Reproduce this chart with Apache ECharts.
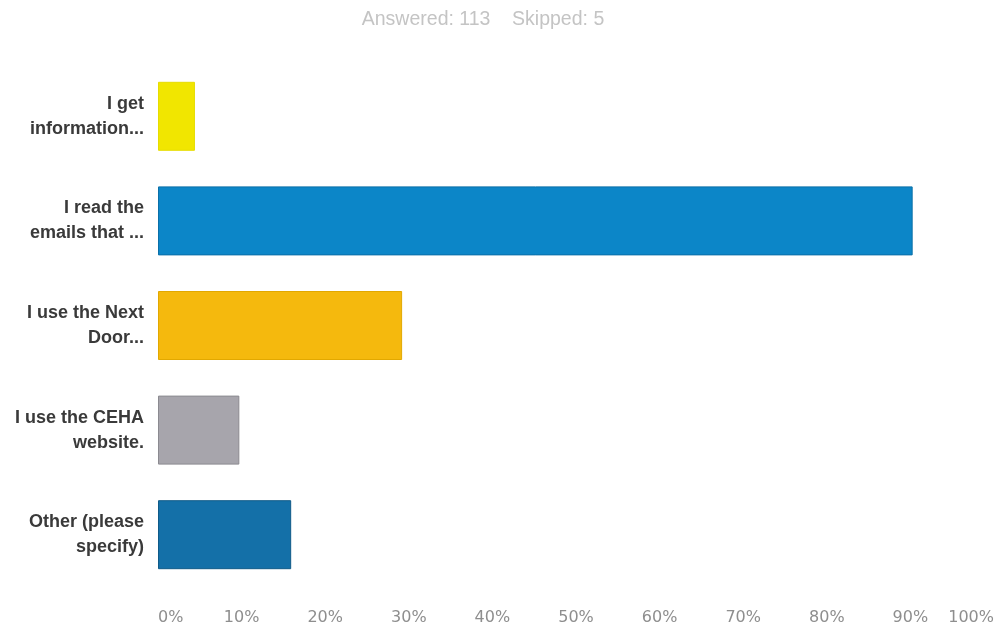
<!DOCTYPE html>
<html>
<head>
<meta charset="utf-8">
<script src="https://cdn.jsdelivr.net/npm/echarts@6/dist/echarts.min.js"></script>
<style>
  html, body { margin: 0; padding: 0; background: #ffffff; }
  #chart { width: 999px; height: 632px; }
</style>
</head>
<body>
<div id="chart"></div>
<script>
// Survey responses: how residents get association news
const categories = [
  'I get\ninformation...',
  'I read the\nemails that ...',
  'I use the Next\nDoor...',
  'I use the CEHA\nwebsite.',
  'Other (please\nspecify)'
];
const responses = [5, 102, 33, 11, 18];
const answered = 113;
const skipped = 5;
const percentValues = responses.map(n => +(n / answered * 100).toFixed(2));
const barColors = ['#f1e600', '#0c86c8', '#f5b90d', '#a7a5ac', '#1470a8'];
const barBorders = ['#e6dc00', '#0a6fa8', '#e2a800', '#8b8a90', '#0f5a88'];
const tickLabels = ['0%', '10%', '20%', '30%', '40%', '50%', '60%', '70%', '80%', '90%', '100%'];

const chart = echarts.init(document.getElementById('chart'), null, { renderer: 'canvas' });

chart.setOption({
  animation: false,
  backgroundColor: '#ffffff',
  title: {
    text: 'Answered: ' + answered + '    Skipped: ' + skipped,
    left: 478,
    textAlign: 'center',
    top: 5,
    textStyle: {
      color: '#c4c4c4',
      fontSize: 19.5,
      fontWeight: 'normal',
      fontFamily: 'Liberation Sans, Arial, sans-serif'
    }
  },
  grid: { left: 158, right: 5, top: 64, bottom: 45, containLabel: false },
  xAxis: {
    type: 'value',
    min: 0,
    max: 100,
    interval: 10,
    axisLine: { show: false },
    axisTick: { show: false },
    splitLine: { show: false },
    axisLabel: {
      margin: 23,
      color: '#8e8e8e',
      fontSize: 16,
      fontFamily: 'DejaVu Sans, sans-serif',
      alignMinLabel: 'left',
      alignMaxLabel: 'right',
      formatter: v => tickLabels[Math.round(v / 10)]
    }
  },
  yAxis: {
    type: 'category',
    inverse: true,
    data: categories,
    axisLine: { show: false },
    axisTick: { show: false },
    axisLabel: {
      margin: 14,
      color: '#3a3a3a',
      fontSize: 18,
      fontWeight: 'bold',
      lineHeight: 25,
      align: 'right',
      fontFamily: 'Liberation Sans, Arial, sans-serif'
    }
  },
  series: [{
    type: 'bar',
    data: percentValues.map((v, i) => ({
      value: v,
      itemStyle: { color: barColors[i], borderColor: barBorders[i], borderWidth: 1 }
    })),
    barWidth: 69
  }]
});
</script>
</body>
</html>
